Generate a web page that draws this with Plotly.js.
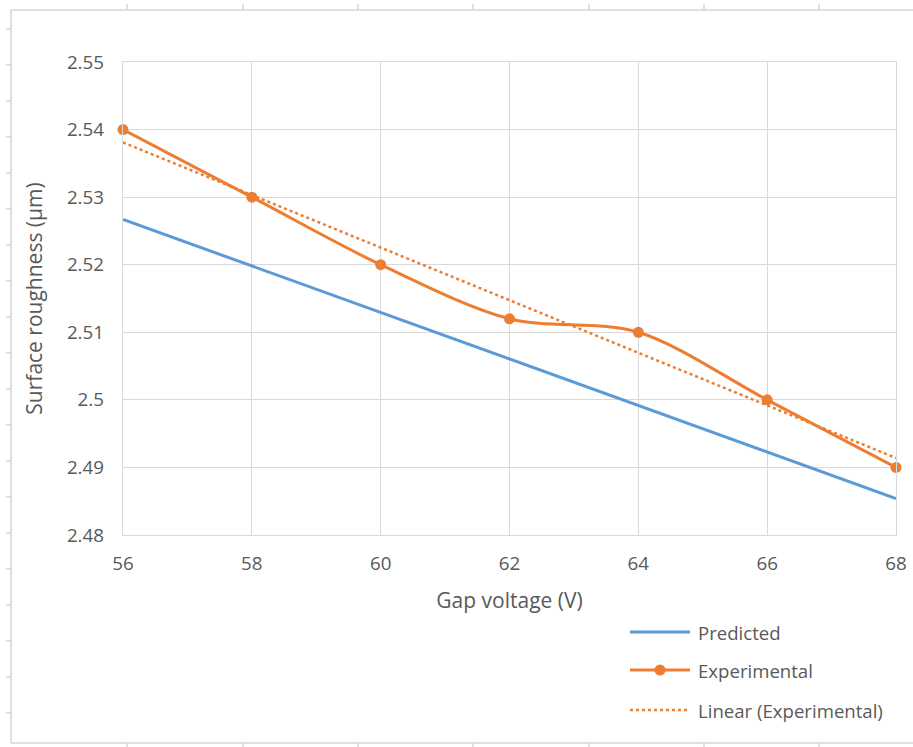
<!DOCTYPE html>
<html>
<head>
<meta charset="utf-8">
<script src="https://cdn.plot.ly/plotly-3.0.1.min.js"></script>
<style>
  html, body { margin: 0; padding: 0; background: #ffffff; }
  #chart { width: 913px; height: 747px; }
</style>
</head>
<body>
<div id="chart"></div>
<script>
// Gap voltage (V)
const gapVoltage = [56, 58, 60, 62, 64, 66, 68];
// Surface roughness (μm)
const predicted = [2.5267, 2.5198, 2.5129, 2.5060, 2.4992, 2.4923, 2.4854];
const experimental = [2.54, 2.53, 2.52, 2.512, 2.51, 2.50, 2.49];
// Linear trend of the experimental series, end points
const trendVoltage = [56, 68];
const trendRoughness = [2.5381, 2.4914];

const seriesNames = ['Predicted', 'Experimental', 'Linear (Experimental)'];
const yTickVals = [2.48, 2.49, 2.50, 2.51, 2.52, 2.53, 2.54, 2.55];
const yTickText = ['2.48', '2.49', '2.5', '2.51', '2.52', '2.53', '2.54', '2.55'];
const xTickVals = [56, 58, 60, 62, 64, 66, 68];

const BLUE = '#5B9BD5';
const ORANGE = '#ED7D31';
const GRID = '#d9d9d9';
const TEXT = '#595959';
const FONT = '"Open Sans", "DejaVu Sans", sans-serif';
const TICK_SIZE = 18.8;
const TITLE_SIZE = 21;
const LEGEND_SIZE = 18.6;

// page geometry (pixels)
const W = 913, H = 747;
const M = { l: 123, r: 17, t: 62, b: 212 };
const PW = W - M.l - M.r, PH = H - M.t - M.b;
const px = x => (x - M.l) / PW;
const py = y => (M.t + PH - y) / PH;

const traces = [
  {
    x: gapVoltage, y: predicted, name: seriesNames[0],
    type: 'scatter', mode: 'lines',
    line: { color: BLUE, width: 3 }
  },
  {
    x: trendVoltage, y: trendRoughness, name: seriesNames[2],
    type: 'scatter', mode: 'lines',
    line: { color: ORANGE, width: 2.5, dash: 'dot' }
  },
  {
    x: gapVoltage, y: experimental, name: seriesNames[1],
    type: 'scatter', mode: 'lines+markers',
    line: { color: ORANGE, width: 3, shape: 'spline', smoothing: 0.9 },
    marker: { color: ORANGE, size: 11 },
    cliponaxis: false
  }
];

// worksheet frame behind the chart: border lines and small row/column ticks
const shapes = [];
const frameLine = (x0, y0, x1, y1) => shapes.push({
  type: 'line', xref: 'paper', yref: 'paper',
  x0: px(x0), y0: py(y0), x1: px(x1), y1: py(y1),
  line: { color: '#d4d4d4', width: 1.5 }, layer: 'below'
});
frameLine(11, 10, 11, 743);
frameLine(11, 10, 913, 10);
frameLine(11, 743, 913, 743);
for (let y = 29; y < 743; y += 36) frameLine(6, y, 11, y);
[127, 243, 358, 473, 589, 704, 819].forEach(x => {
  frameLine(x, 4, x, 10);
  frameLine(x, 743, x, 747);
});

// legend
const legendRows = [632, 670, 710];
const annotations = [];
[BLUE, ORANGE, ORANGE].forEach((c, i) => {
  const y = legendRows[i];
  shapes.push({
    type: 'line', xref: 'paper', yref: 'paper',
    x0: px(630), x1: px(690), y0: py(y), y1: py(y),
    line: { color: c, width: i === 2 ? 2.5 : 3, dash: i === 2 ? 'dot' : 'solid' }
  });
  annotations.push({
    xref: 'paper', yref: 'paper', x: px(696), y: py(y),
    xanchor: 'left', yanchor: 'middle', showarrow: false,
    text: seriesNames[i], font: { family: FONT, size: LEGEND_SIZE, color: TEXT }
  });
});
shapes.push({
  type: 'circle', xref: 'paper', yref: 'paper',
  x0: px(654.5), x1: px(665.5), y0: py(675.5), y1: py(664.5),
  fillcolor: ORANGE, line: { color: ORANGE, width: 0 }
});

const layout = {
  width: W, height: H,
  margin: M,
  paper_bgcolor: '#ffffff', plot_bgcolor: '#ffffff',
  showlegend: false,
  font: { family: FONT, size: TICK_SIZE, color: TEXT },
  xaxis: {
    range: [56, 68], tickvals: xTickVals,
    showgrid: true, gridcolor: GRID, gridwidth: 1.2,
    showline: true, mirror: true, linecolor: GRID, linewidth: 1.2,
    zeroline: false, ticks: '', ticklabelstandoff: 11,
    tickfont: { family: FONT, size: TICK_SIZE, color: TEXT },
    title: { text: 'Gap voltage (V)', standoff: 18, font: { family: FONT, size: TITLE_SIZE, color: TEXT } }
  },
  yaxis: {
    range: [2.48, 2.55], tickvals: yTickVals, ticktext: yTickText,
    showgrid: true, gridcolor: GRID, gridwidth: 1.2,
    showline: true, mirror: true, linecolor: GRID, linewidth: 1.2,
    zeroline: false, ticks: '', ticklabelstandoff: 14,
    tickfont: { family: FONT, size: TICK_SIZE, color: TEXT },
    title: { text: 'Surface roughness (μm)', standoff: 18, font: { family: FONT, size: TITLE_SIZE, color: TEXT } }
  },
  shapes: shapes,
  annotations: annotations
};

Plotly.newPlot('chart', traces, layout, { displayModeBar: false, staticPlot: true });
</script>
</body>
</html>
